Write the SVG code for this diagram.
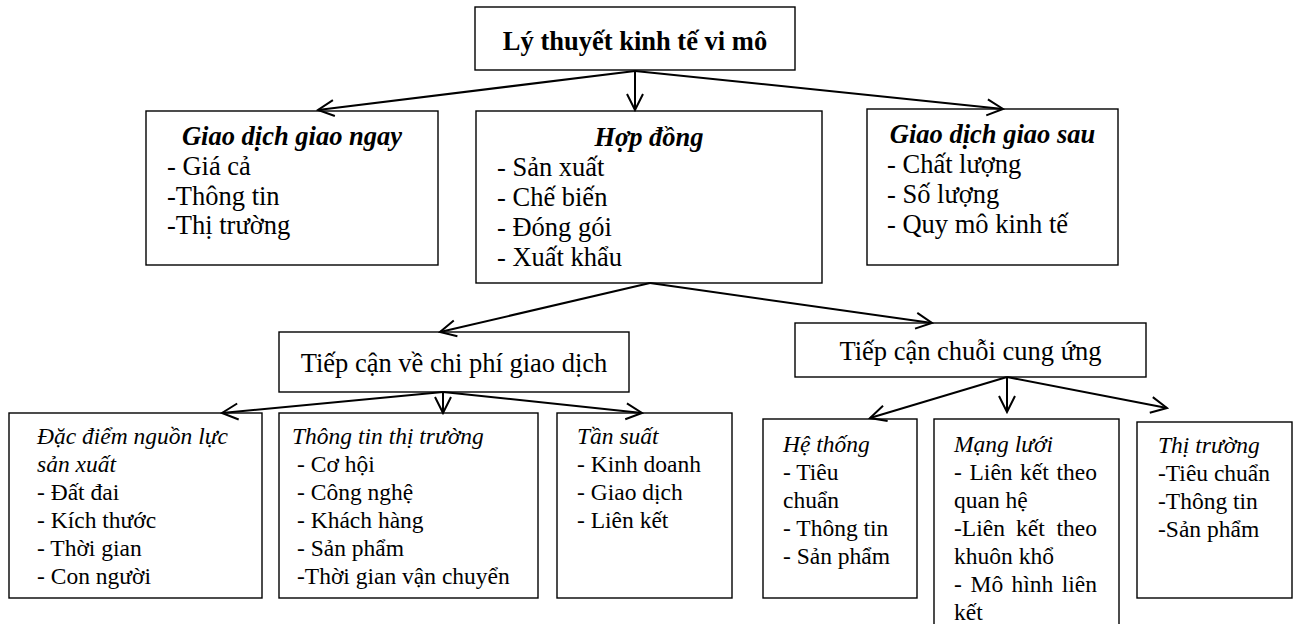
<svg xmlns="http://www.w3.org/2000/svg" width="1301" height="624" viewBox="0 0 1301 624">
<style>
.box{fill:#fff;stroke:#000;stroke-width:1.4}
.t{font-family:"Liberation Serif","Times New Roman",serif;fill:#000}
.big{font-size:26.5px}
.sm{font-size:23.5px}
.bi{font-weight:bold;font-style:italic}
.b{font-weight:bold}
.i{font-style:italic}
.mid{text-anchor:middle}
.end{text-anchor:end}
.conn line{stroke:#000;stroke-width:2;marker-end:url(#ah)}
</style>
<defs>
<marker id="ah" markerUnits="userSpaceOnUse" viewBox="0 0 20 20" markerWidth="20" markerHeight="20" refX="18" refY="10" orient="auto">
<path d="M2,2 L18,10 L2,18" fill="none" stroke="#000" stroke-width="2"/>
</marker>
</defs>
<rect width="1301" height="624" fill="#fff"/>

<g id="root">
<rect class="box" x="475" y="7" width="320" height="63"/>
<text class="t big b mid" x="635" y="50">Lý thuyết kinh tế vi mô</text>
</g>

<g id="spot">
<rect class="box" x="146" y="111" width="292" height="154"/>
<text class="t big bi mid" x="292" y="145">Giao dịch giao ngay</text>
<text class="t big" x="167" y="175">- Giá cả</text>
<text class="t big" x="167" y="205">-Thông tin</text>
<text class="t big" x="167" y="234">-Thị trường</text>
</g>

<g id="contract">
<rect class="box" x="476" y="111" width="346" height="172"/>
<text class="t big bi mid" x="649" y="146">Hợp đồng</text>
<text class="t big" x="497" y="176">- Sản xuất</text>
<text class="t big" x="497" y="206">- Chế biến</text>
<text class="t big" x="497" y="236">- Đóng gói</text>
<text class="t big" x="497" y="266">- Xuất khẩu</text>
</g>

<g id="forward">
<rect class="box" x="867" y="109" width="251" height="156"/>
<text class="t big bi mid" x="992.5" y="143">Giao dịch giao sau</text>
<text class="t big" x="887" y="173">- Chất lượng</text>
<text class="t big" x="887" y="203">- Số lượng</text>
<text class="t big" x="887" y="233">- Quy mô kinh tế</text>
</g>

<g id="transaction-cost">
<rect class="box" x="279" y="332" width="350" height="60"/>
<text class="t big mid" x="454" y="372">Tiếp cận về chi phí giao dịch</text>
</g>

<g id="supply-chain">
<rect class="box" x="795" y="323" width="351" height="54"/>
<text class="t big mid" x="970.5" y="360">Tiếp cận chuỗi cung ứng</text>
</g>

<g id="resources">
<rect class="box" x="9" y="413" width="253" height="185"/>
<text class="t sm i" x="37" y="444">Đặc điểm nguồn lực</text>
<text class="t sm i" x="37" y="472">sản xuất</text>
<text class="t sm" x="37" y="500">- Đất đai</text>
<text class="t sm" x="37" y="528">- Kích thước</text>
<text class="t sm" x="37" y="556">- Thời gian</text>
<text class="t sm" x="37" y="584">- Con người</text>
</g>

<g id="market-info">
<rect class="box" x="279" y="413" width="259" height="185"/>
<text class="t sm i" x="292" y="444">Thông tin thị trường</text>
<text class="t sm" x="297" y="472">- Cơ hội</text>
<text class="t sm" x="297" y="500">- Công nghệ</text>
<text class="t sm" x="297" y="528">- Khách hàng</text>
<text class="t sm" x="297" y="556">- Sản phẩm</text>
<text class="t sm" x="297" y="584">-Thời gian vận chuyển</text>
</g>

<g id="frequency">
<rect class="box" x="557" y="413" width="175" height="185"/>
<text class="t sm i" x="577" y="444">Tần suất</text>
<text class="t sm" x="577" y="472">- Kinh doanh</text>
<text class="t sm" x="577" y="500">- Giao dịch</text>
<text class="t sm" x="577" y="528">- Liên kết</text>
</g>

<g id="system">
<rect class="box" x="763" y="419" width="154" height="179"/>
<text class="t sm i" x="783" y="452">Hệ thống</text>
<text class="t sm" x="783" y="480">- Tiêu</text>
<text class="t sm" x="783" y="508">chuẩn</text>
<text class="t sm" x="783" y="536">- Thông tin</text>
<text class="t sm" x="783" y="564">- Sản phẩm</text>
</g>

<g id="network">
<rect class="box" x="934" y="419" width="185" height="215"/>
<text class="t sm i" x="954" y="452">Mạng lưới</text>
<text class="t sm" y="480"><tspan x="954">-</tspan><tspan x="969.5">Liên</tspan><tspan x="1020">kết</tspan></text>
<text class="t sm end" x="1097" y="480">theo</text>
<text class="t sm" x="954" y="508">quan hệ</text>
<text class="t sm" y="536"><tspan x="954">-Liên</tspan><tspan x="1016">kết</tspan></text>
<text class="t sm end" x="1097" y="536">theo</text>
<text class="t sm" x="954" y="564">khuôn khổ</text>
<text class="t sm" y="592"><tspan x="954">-</tspan><tspan x="970.5">Mô</tspan><tspan x="1011.5">hình</tspan></text>
<text class="t sm end" x="1097" y="592">liên</text>
<text class="t sm" x="954" y="620">kết</text>
</g>

<g id="market">
<rect class="box" x="1137" y="422" width="155" height="176"/>
<text class="t sm i" x="1158" y="453">Thị trường</text>
<text class="t sm" x="1158" y="481">-Tiêu chuẩn</text>
<text class="t sm" x="1158" y="509">-Thông tin</text>
<text class="t sm" x="1158" y="537">-Sản phẩm</text>
</g>

<g id="connectors" class="conn">
<line x1="635" y1="71" x2="318" y2="110"/>
<line x1="635" y1="71" x2="635" y2="110"/>
<line x1="635" y1="71" x2="1003" y2="109"/>
<line x1="650" y1="283" x2="440" y2="332"/>
<line x1="650" y1="283" x2="932" y2="323"/>
<line x1="443" y1="392" x2="222" y2="413"/>
<line x1="443" y1="392" x2="443" y2="413"/>
<line x1="443" y1="392" x2="642" y2="413"/>
<line x1="1007" y1="377" x2="870" y2="418"/>
<line x1="1007" y1="377" x2="1007" y2="412"/>
<line x1="1007" y1="377" x2="1167" y2="408"/>
</g>
</svg>
